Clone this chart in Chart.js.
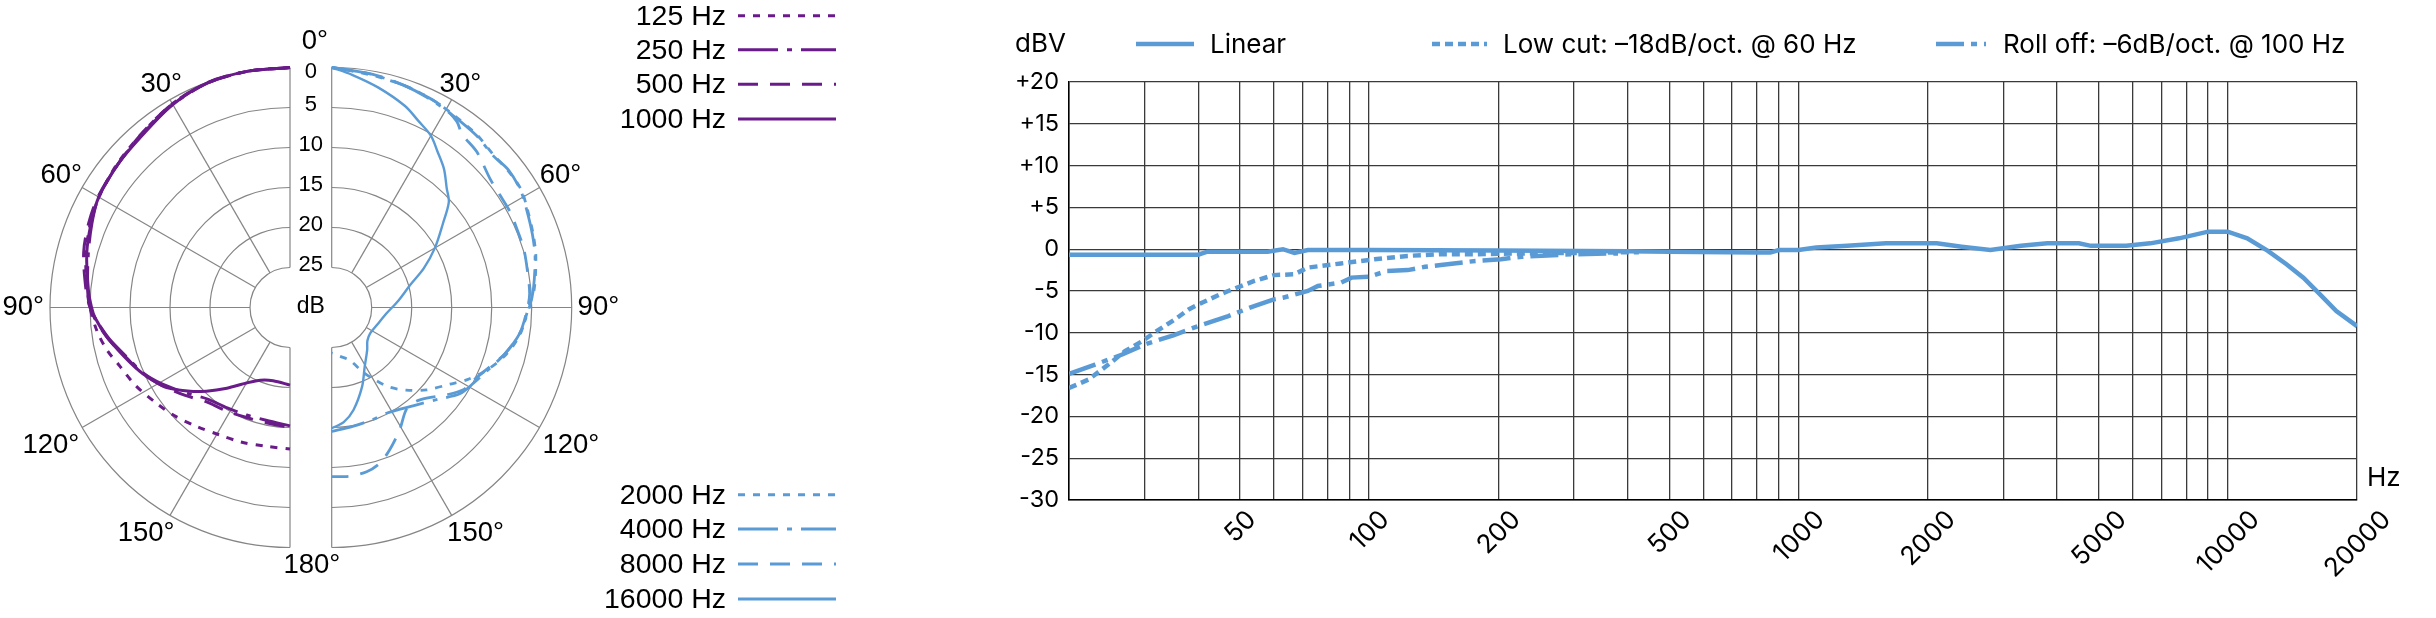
<!DOCTYPE html>
<html><head><meta charset="utf-8">
<script src="https://cdn.jsdelivr.net/npm/chart.js@4.4.1/dist/chart.umd.min.js"></script>
<style>
html,body{margin:0;padding:0;background:#fff;}
#wrap{position:relative;width:2436px;height:618px;overflow:hidden;}
#polar{position:absolute;left:0;top:0;}
#freq{position:absolute;left:900px;top:0;}
</style></head><body>
<div id="wrap"><canvas id="polar" width="900" height="618"></canvas><canvas id="freq" width="1536" height="618"></canvas></div>
<script>
// ---------------- DATA ----------------
// Polar pattern: angle (deg) and attenuation (dB, 0 = outer ring)
const polarLabels = ['125 Hz','250 Hz','500 Hz','1000 Hz','2000 Hz','4000 Hz','8000 Hz','16000 Hz'];
const ang125 = [0,10,20,30,40,50,60,67,75,82,90,97,103,109,117,126,133,142,151,160,170,180];
const db125  = [0,0,0.1,0.6,1.4,1.9,2.4,2.9,3.6,4.3,5.0,5.7,6.5,7.5,8.4,9.5,10.2,11.1,11.8,12.1,12.4,12.3];
const ang250 = [0,10,20,30,40,50,60,67,75,85,90,94,100,107,114,121,130,138,148,158,168,180];
const db250  = [0,0,0.1,0.7,1.5,2.0,2.4,3.1,3.9,4.6,5.0,5.8,7.1,8.7,9.9,11.4,13.3,14.6,15.2,15.5,15.6,15.2];
const ang500 = [0,10,20,30,40,50,60,67,75,85,90,94,100,107,114,121,130,138,148,158,168,180];
const db500  = [0,0,0.05,0.6,1.4,2.0,2.3,2.7,3.3,4.4,5.0,5.7,7.0,8.6,9.8,11.2,12.9,14.2,14.8,15.2,15.3,15.0];
const ang1000 = [0,10,20,30,40,50,60,67,75,85,90,93,99,106,113,118,123,130,135,142,150,158,167,180];
const db1000  = [0,0,0.1,0.7,1.6,2.0,2.4,3.0,3.7,4.7,5.2,5.6,6.8,8.3,9.6,10.6,11.6,13.7,15.2,17.2,19.1,20.2,20.6,20.3];
const ang2000 = [0,9,18,25,32,40,47,52,58,63,70,76,85,90,98,105,112,118,123,131,138,144,149,154,161,170,180];
const db2000  = [0,0.5,0.8,1.1,1.5,1.8,2.2,2.1,2.1,2.6,3.2,3.7,4.6,5.4,6.2,7.4,9.1,10.8,12.4,14.3,16.1,17.7,19.4,21.0,23.0,23.8,24.3];
const ang4000 = [0,9,18,25,32,40,47,52,58,63,70,76,85,90,98,105,112,118,124,131,140,152,160,170,180];
const db4000  = [0,0.4,0.8,1.2,1.6,1.9,2.3,2.0,2.2,2.7,3.3,3.8,4.7,5.3,6.3,7.6,9.0,9.9,10.7,12.5,14.0,15.1,15.1,14.9,14.5];
const ang8000 = [0,10,18,25,30,34,37,43,51,56,62,67,73,79,86,91,98,105,112,118,122,127,136,143,151,158,163,168,174,180];
const db8000  = [0,0.4,0.8,1.1,1.4,2.0,2.9,3.4,4.5,4.7,4.7,4.85,4.9,5.1,5.2,5.6,6.3,7.6,9.2,10.2,10.6,11.9,14.0,14.3,12.5,10.75,9.6,9.0,8.8,8.85];
const ang16000 = [0,5,12,20,25,30,34,39,44,48,53,60,67,74,84,96,110,124,133,140,151,159,168,174,180];
const db16000  = [0,0.8,1.9,3.2,4.3,5.2,6.4,7.7,9.3,10.3,12.6,15.1,17.5,19.8,21.6,23.1,23.9,24.2,23.9,23.1,21.5,19.4,16.9,15.6,14.9];
const ringTicks = [0,5,10,15,20,25];
const angleTicks = [0,30,60,90,120,150,180];

// Frequency response
const freqLabels = ['Linear','Low cut: \u201318dB/oct. @ 60 Hz','Roll off: \u20136dB/oct. @ 100 Hz'];
const freqLinear = [20,40,42,58,63,67,72,100,200,400,500,800,860,900,1000,1100,1300,1600,2100,2400,2800,3300,3800,4500,4800,5800,6600,7700,9000,10000,11100,12400,13700,15000,16400,17900,20000];
const dbLinear   = [-0.65,-0.65,-0.3,-0.3,0.0,-0.45,-0.1,-0.1,-0.15,-0.25,-0.3,-0.4,-0.4,-0.1,-0.1,0.2,0.4,0.7,0.7,0.3,-0.1,0.4,0.7,0.7,0.4,0.4,0.7,1.3,2.1,2.1,1.3,-0.2,-1.8,-3.4,-5.4,-7.4,-9.2];
const freqLowCut = [20,22.2,24.7,27,29.6,32,35.3,38,40.8,45,47,54,60,67,72,86,103,123,147,177,233,300,350,425];
const dbLowCut   = [-16.6,-15.6,-13.8,-12.2,-11.0,-9.8,-8.4,-7.2,-6.4,-5.4,-5.0,-3.8,-3.1,-3.0,-2.2,-1.7,-1.2,-0.8,-0.6,-0.6,-0.5,-0.45,-0.4,-0.35];
const freqRollOff = [20,23,26.6,30,35,40,47,54,60,63,72,76,86,91,100,110,123,135,147,177,203,227,245,300,380];
const dbRollOff   = [-14.9,-13.8,-12.6,-11.4,-10.3,-9.2,-8.0,-6.8,-6.0,-5.8,-5.0,-4.4,-4.0,-3.4,-3.3,-2.6,-2.5,-2.1,-1.9,-1.4,-1.2,-0.9,-0.8,-0.6,-0.5];
const freqGridTicks = [20,30,40,50,60,70,80,90,100,200,300,400,500,600,700,800,900,1000,2000,3000,4000,5000,6000,7000,8000,9000,10000,20000];
const freqLabelTicks = [50,100,200,500,1000,2000,5000,10000,20000];

// ---------------- STYLE ----------------
const BLUE = '#5b9bd5', PURPLE = '#6a1b8a', POLAR_GRID = '#858585', FREQ_GRID = '#3a3a3a';
const OUTER = 30;            // radius units: r = OUTER - dB (inner ring at 25 dB -> 5)
const UNIT = 8;              // px per unit
const GAP_CX = 310.85, CY = 307.5, HALF_GAP = 20.85 / UNIT;
const PW = 900, PH = 618;
const SANS = '"Liberation Sans", Arial, sans-serif';

function polarPoints(angs, dbs, side){
  return angs.map((a,i)=>{
    const r = OUTER - dbs[i];
    const t = a*Math.PI/180;
    return {x: side*(HALF_GAP + r*Math.sin(t)), y: r*Math.cos(t)};
  });
}
function ds(label, angs, dbs, side, color, dash, w){
  return {label, data: polarPoints(angs, dbs, side), showLine:true, borderColor:color, backgroundColor:color,
    borderWidth:w, borderDash:dash, pointRadius:0, tension:0.3, fill:false};
}

const polarGrid = {
  id:'polarGrid',
  beforeDatasetsDraw(chart){
    const {ctx, scales:{x,y}} = chart;
    const u = x.getPixelForValue(1) - x.getPixelForValue(0);
    const cy = y.getPixelForValue(0);
    const cxs = [x.getPixelForValue(-HALF_GAP), x.getPixelForValue(HALF_GAP)];
    ctx.save();
    ctx.strokeStyle = POLAR_GRID; ctx.lineWidth = 1.2;
    ringTicks.forEach(d=>{
      const R = (OUTER-d)*u;
      ctx.beginPath(); ctx.arc(cxs[0], cy, R, -Math.PI/2, Math.PI/2, true); ctx.stroke();
      ctx.beginPath(); ctx.arc(cxs[1], cy, R, -Math.PI/2, Math.PI/2, false); ctx.stroke();
    });
    const rIn = (OUTER - ringTicks[ringTicks.length-1])*u, rOut = OUTER*u;
    angleTicks.forEach(a=>{
      const t = a*Math.PI/180;
      [-1,1].forEach((s,k)=>{
        ctx.beginPath();
        ctx.moveTo(cxs[k] + s*rIn*Math.sin(t), cy - rIn*Math.cos(t));
        ctx.lineTo(cxs[k] + s*rOut*Math.sin(t), cy - rOut*Math.cos(t));
        ctx.stroke();
      });
    });
    ctx.restore();
  },
  afterDraw(chart){
    const {ctx, scales:{x,y}} = chart;
    const u = x.getPixelForValue(1) - x.getPixelForValue(0);
    const cy = y.getPixelForValue(0);
    const gx = x.getPixelForValue(0);
    const cxs = [x.getPixelForValue(-HALF_GAP), x.getPixelForValue(HALF_GAP)];
    ctx.save();
    ctx.fillStyle = '#000'; ctx.textBaseline = 'middle'; ctx.textAlign = 'center';
    // ring labels
    ctx.font = '22px ' + SANS;
    ringTicks.forEach(d=>{
      const yy = cy - (OUTER-d)*u + (d===0 ? 4 : -3);
      ctx.fillText(String(d), gx, yy);
    });
    ctx.font = '23px ' + SANS;
    ctx.fillText('dB', gx, cy - 1);
    // angle labels
    ctx.font = '27.5px ' + SANS;
    angleTicks.forEach(a=>{
      const txt = a + '\u00b0';
      if (a===0){ ctx.fillText(txt, gx + 4, cy - 266); return; }
      if (a===180){ ctx.fillText(txt, gx + 1, cy + 258); return; }
      const w = ctx.measureText(txt).width;
      const ta = (a===150 ? 147.5 : a)*Math.PI/180;
      const R = 248 + 0.45*w*Math.abs(Math.sin(ta)) + (a>90 ? 6 : 0);
      ctx.fillText(txt, cxs[0] - R*Math.sin(ta), cy - R*Math.cos(ta));
      ctx.fillText(txt, cxs[1] + R*Math.sin(ta), cy - R*Math.cos(ta));
    });
    // legend
    ctx.font = '28.5px ' + SANS;
    ctx.textAlign = 'right';
    const rowsTop = [15.8, 49.8, 84.2, 119];
    const rowsBot = [494.7, 529, 564, 599.1];
    chart.data.datasets.forEach((d,i)=>{
      const yy = i < 4 ? rowsTop[i] : rowsBot[i-4];
      ctx.fillStyle = '#000';
      ctx.fillText(d.label, 726, yy + 1);
      ctx.strokeStyle = d.borderColor; ctx.lineWidth = 3; ctx.setLineDash(d.borderDash || []);
      ctx.beginPath(); ctx.moveTo(738, yy); ctx.lineTo(836, yy); ctx.stroke();
      ctx.setLineDash([]);
    });
    ctx.restore();
  }
};

new Chart(document.getElementById('polar'), {
  type:'scatter',
  data:{datasets:[
    ds(polarLabels[0], ang125, db125, -1, PURPLE, [7,8], 3),
    ds(polarLabels[1], ang250, db250, -1, PURPLE, [40,9,5,9], 3),
    ds(polarLabels[2], ang500, db500, -1, PURPLE, [20,12], 3),
    ds(polarLabels[3], ang1000, db1000, -1, PURPLE, [], 3),
    ds(polarLabels[4], ang2000, db2000, 1, BLUE, [7,8], 2.8),
    ds(polarLabels[5], ang4000, db4000, 1, BLUE, [40,9,5,9], 2.8),
    ds(polarLabels[6], ang8000, db8000, 1, BLUE, [20,12], 2.8),
    ds(polarLabels[7], ang16000, db16000, 1, BLUE, [], 2.4)
  ]},
  options:{
    responsive:false, animation:false, events:[],
    layout:{padding:0},
    plugins:{legend:{display:false}, tooltip:{enabled:false}},
    scales:{
      x:{type:'linear', display:false, min:-GAP_CX/UNIT, max:(PW-GAP_CX)/UNIT},
      y:{type:'linear', display:false, min:-(PH-CY)/UNIT, max:CY/UNIT}
    }
  },
  plugins:[polarGrid]
});

// ---------------- FREQUENCY RESPONSE ----------------
const freqDecor = {
  id:'freqDecor',
  afterDraw(chart){
    const ctx = chart.ctx, ca = chart.chartArea, xs = chart.scales.x;
    ctx.save();
    ctx.font = '26px Inter'; ctx.fillStyle = '#000'; ctx.textBaseline = 'middle'; ctx.textAlign = 'left';
    ctx.fillText('dBV', 115, 44);
    const items = [[236,294,310],[532,587,603],[1036,1086,1103]];
    chart.data.datasets.forEach((d,i)=>{
      const [x0,x1,tx] = items[i];
      ctx.strokeStyle = d.borderColor; ctx.lineWidth = 4.5; ctx.setLineDash(d.borderDash || []);
      ctx.beginPath(); ctx.moveTo(x0,44); ctx.lineTo(x1,44); ctx.stroke();
      ctx.setLineDash([]);
      ctx.fillText(d.label, tx, 45);
    });
    ctx.fillText('Hz', ca.right + 10, ca.bottom - 22);
    // rotated frequency labels: centred on their grid line, top end just below the axis
    ctx.font = '26px Inter'; ctx.textAlign = 'center';
    const h = 19;
    freqLabelTicks.forEach(v=>{
      const px = xs.getPixelForValue(v);
      const L = ctx.measureText(String(v)).width;
      const half = (L + h) / (2*Math.SQRT2);
      ctx.save();
      ctx.translate(px, ca.bottom + 8 + half);
      ctx.rotate(-Math.PI/4);
      ctx.fillText(String(v), 0, 1);
      ctx.restore();
    });
    ctx.restore();
  }
};
const toXY = (fs, ds) => fs.map((f,i)=>({x:f, y:ds[i]}));
new Chart(document.getElementById('freq'), {
  type:'scatter',
  data:{datasets:[
    {label:freqLabels[0], data:toXY(freqLinear, dbLinear), showLine:true, borderColor:BLUE, backgroundColor:BLUE, borderWidth:4.5, borderDash:[], pointRadius:0, tension:0},
    {label:freqLabels[1], data:toXY(freqLowCut, dbLowCut), showLine:true, borderColor:BLUE, backgroundColor:BLUE, borderWidth:4.5, borderDash:[8,5], pointRadius:0, tension:0},
    {label:freqLabels[2], data:toXY(freqRollOff, dbRollOff), showLine:true, borderColor:BLUE, backgroundColor:BLUE, borderWidth:4.5, borderDash:[28,7,6,7], pointRadius:0, tension:0}
  ]},
  options:{
    responsive:false, animation:false, events:[],
    layout:{padding:{left:100, top:82, right:79, bottom:18}},
    plugins:{legend:{display:false}, tooltip:{enabled:false}},
    scales:{
      x:{type:'logarithmic', min:20, max:20000,
        afterBuildTicks:s=>{ s.ticks = freqGridTicks.map(v=>({value:v})); },
        afterFit:s=>{ s.height = 100; },
        grid:{color:FREQ_GRID, lineWidth:1.3, drawTicks:false},
        border:{display:true, color:'#000', width:1.5},
        ticks:{display:false, autoSkip:false}
      },
      y:{type:'linear', min:-30, max:20,
        afterFit:s=>{ s.width = 69; },
        grid:{color:FREQ_GRID, lineWidth:1.3, drawTicks:false},
        border:{display:true, color:'#000', width:1.5},
        ticks:{stepSize:5, padding:10, color:'#000', font:{family:'Inter', size:23.5},
          callback:v=> v>0 ? '+'+v : String(v)}
      }
    }
  },
  plugins:[freqDecor]
});
</script></body></html>
